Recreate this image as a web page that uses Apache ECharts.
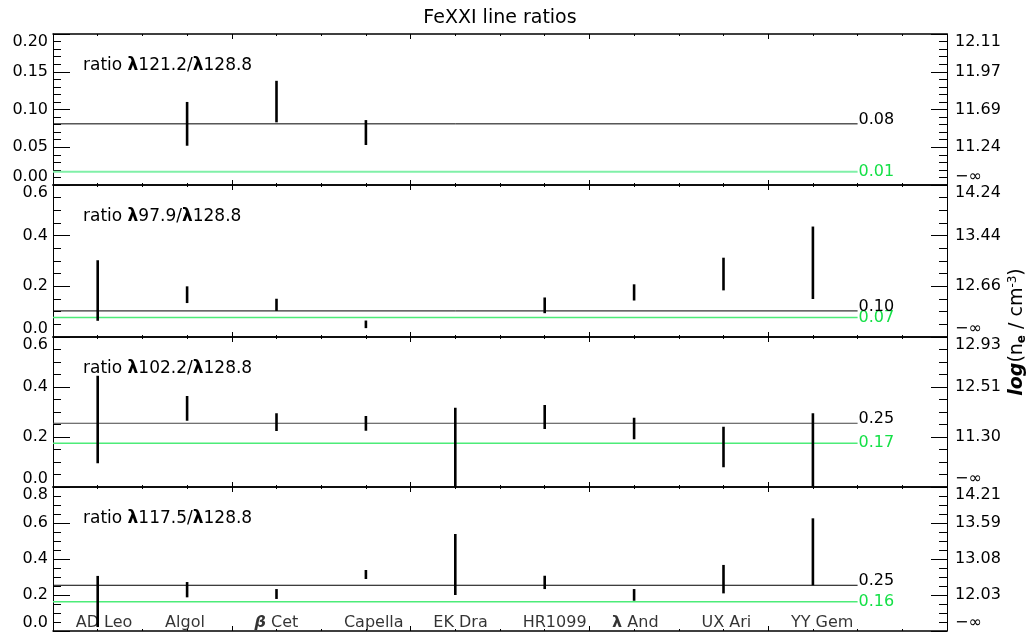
<!DOCTYPE html>
<html><head><meta charset="utf-8">
<script src="https://cdn.jsdelivr.net/npm/echarts@6/dist/echarts.min.js"></script>
<style>html,body{margin:0;padding:0;background:#fff}#c{width:1027px;height:634px}</style>
</head><body><div id="c"></div>
<script>
// ---------------- data ----------------
const stars = ['AD Leo','Algol','β Cet','Capella','EK Dra','HR1099','λ And','UX Ari','YY Gem'];
const chartTitle = 'FeXXI line ratios';
const panelLines = ['121.2','97.9','102.2','117.5'];
const refLine = '128.8';
const yMax = [0.2, 0.6, 0.6, 0.8];
const yInterval = [0.05, 0.2, 0.2, 0.2];
const yMinorInterval = [0.01, 0.05, 0.05, 0.05];
const rightLabels1 = ['−∞','11.24','11.69','11.97','12.11'];
const rightLabels2 = ['−∞','12.66','13.44','14.24'];
const rightLabels3 = ['−∞','11.30','12.51','12.93'];
const rightLabels4 = ['−∞','12.03','13.08','13.59','14.21'];
// error bar ranges (low / high) per star
const low1  = [null, 0.052, 0.083, 0.053, null, null, null, null, null];
const high1 = [null, 0.110, 0.138, 0.086, null, null, null, null, null];
const low2  = [0.064, 0.134, 0.103, 0.035, null, 0.094, 0.144, 0.184, 0.150];
const high2 = [0.303, 0.200, 0.151, 0.065, null, 0.156, 0.208, 0.313, 0.436];
const low3  = [0.095, 0.265, 0.224, 0.225, 0.000, 0.232, 0.191, 0.079, 0.000];
const high3 = [0.445, 0.364, 0.295, 0.284, 0.317, 0.328, 0.277, 0.241, 0.295];
const low4  = [0.022, 0.187, 0.178, 0.289, 0.200, 0.233, 0.168, 0.209, 0.254];
const high4 = [0.306, 0.272, 0.233, 0.339, 0.539, 0.307, 0.233, 0.367, 0.626];
// reference levels
const blackLevel = [0.081, 0.103, 0.255, 0.254];
const greenLevel = [0.0176, 0.077, 0.175, 0.163];
const xEnd = 9;

// ---------------- build ----------------
const lows = [low1, low2, low3, low4];
const highs = [high1, high2, high3, high4];
const rightLabels = [rightLabels1, rightLabels2, rightLabels3, rightLabels4];
const FONT = 'DejaVu Sans';
const gridTop = [34, 185, 337, 487];
const gridH = [151, 152, 150, 144];
const trunc2 = v => (Math.floor(v * 100 + 1e-9) / 100).toFixed(2);

const grid = [], xAxis = [], yAxis = [], series = [], title = [];
title.push({text: chartTitle, left: 500, top: 9, textAlign: 'center', padding: 0,
  textStyle: {fontFamily: FONT, fontSize: 19, fontWeight: 'normal', color: '#000'}});

function xAx(i, pos, interval, len, line) {
  return {gridIndex: i, type: 'value', min: 0, max: 10, interval, position: pos,
    axisLine: {show: line, onZero: false, lineStyle: {color: '#000', width: 1.5}},
    axisTick: {show: true, inside: true, length: len, lineStyle: {color: '#000'}},
    axisLabel: {show: false}, splitLine: {show: false}};
}
function yAx(i, pos, interval, len, line, label) {
  return {gridIndex: i, type: 'value', min: 0, max: yMax[i], interval, position: pos,
    axisLine: {show: line, onZero: false, lineStyle: {color: '#000', width: 1}},
    axisTick: {show: true, inside: true, length: len, lineStyle: {color: '#000'}},
    axisLabel: label || {show: false}, splitLine: {show: false}};
}

for (let i = 0; i < 4; i++) {
  grid.push({left: 53, right: 80, top: gridTop[i], height: gridH[i]});
  xAxis.push(xAx(i, 'bottom', 2, 5, true));
  xAxis.push(xAx(i, 'top', 2, 5, true));
  xAxis.push(xAx(i, 'bottom', 0.5, 2, false));
  xAxis.push(xAx(i, 'top', 0.5, 2, false));
  const rl = rightLabels[i];
  yAxis.push(yAx(i, 'left', yInterval[i], 17, true,
    {color: '#000', fontFamily: FONT, fontSize: 16, margin: 5,
     verticalAlignMaxLabel: 'top', verticalAlignMinLabel: 'bottom',
     formatter: v => v.toFixed(i === 0 ? 2 : 1)}));
  yAxis.push(yAx(i, 'right', yInterval[i], 16, true,
    {color: '#000', fontFamily: FONT, fontSize: 16, margin: 8,
     verticalAlignMaxLabel: 'top', verticalAlignMinLabel: 'bottom',
     formatter: v => rl[Math.round(v / yInterval[i])] || ''}));
  yAxis.push(yAx(i, 'left', yMinorInterval[i], 8, false));
  yAxis.push(yAx(i, 'right', yMinorInterval[i], 8, false));

  title.push({text: 'ratio {l|λ}' + panelLines[i] + '/{l|λ}' + refLine,
    left: 83, top: gridTop[i] + 23, padding: 0,
    textStyle: {fontFamily: FONT, fontSize: 17, fontWeight: 'normal', color: '#000',
      rich: {l: {fontFamily: FONT, fontSize: 17, fontWeight: 'bold', color: '#000'}}}});

  const xi = 4 * i, yi = 4 * i;
  // reference levels
  series.push({type: 'line', xAxisIndex: xi, yAxisIndex: yi, silent: true, symbol: 'none',
    data: [[0, greenLevel[i]], [xEnd, greenLevel[i]]],
    lineStyle: {color: i === 0 ? '#80f0a8' : '#4cec78', width: i === 0 ? 2 : 1.5},
    endLabel: {show: true, formatter: () => trunc2(greenLevel[i]), distance: 1,
      color: '#14e046', fontFamily: FONT, fontSize: 16, align: 'left', verticalAlign: 'middle'},
    z: 2});
  series.push({type: 'line', xAxisIndex: xi, yAxisIndex: yi, silent: true, symbol: 'none',
    data: [[0, blackLevel[i]], [xEnd, blackLevel[i]]],
    lineStyle: {color: i === 2 ? '#444' : '#000', width: 1},
    endLabel: {show: true, formatter: () => trunc2(blackLevel[i]), distance: 1, offset: [0, 4],
      color: '#000', fontFamily: FONT, fontSize: 16, align: 'left', verticalAlign: 'bottom'},
    z: 2});

  // error bars
  const bars = [];
  stars.forEach((s, k) => {
    if (lows[i][k] != null && highs[i][k] != null) bars.push([k + 0.5, lows[i][k], highs[i][k]]);
  });
  series.push({type: 'custom', xAxisIndex: xi, yAxisIndex: yi, silent: true, clip: false,
    data: bars, encode: {x: 0, y: [1, 2]}, z: 5,
    renderItem: (params, api) => {
      const a = api.coord([api.value(0), api.value(1)]);
      const b = api.coord([api.value(0), api.value(2)]);
      return {type: 'line', shape: {x1: a[0], y1: a[1], x2: b[0], y2: b[1]},
        style: {stroke: '#000', lineWidth: 2.6}};
    }});
}

// star names inside the bottom panel
const starRich = s => s.replace('β', '{bi|β}').replace('λ', '{b|λ}');
series.push({type: 'scatter', xAxisIndex: 12, yAxisIndex: 12, silent: true, symbolSize: 1,
  itemStyle: {color: 'rgba(0,0,0,0)'}, z: 6,
  data: stars.map((s, k) => ({value: [k + 0.5, 0], name: s})),
  label: {show: true, position: 'inside', align: 'left', verticalAlign: 'middle', offset: [-22, -8],
    formatter: p => starRich(p.name), color: '#000', fontFamily: FONT, fontSize: 16,
    rich: {bi: {fontFamily: FONT, fontSize: 16, fontWeight: 'bold', fontStyle: 'italic', color: '#000'},
           b: {fontFamily: FONT, fontSize: 16, fontWeight: 'bold', color: '#000'}}}});

const chart = echarts.init(document.getElementById('c'), null, {renderer: 'canvas'});
chart.setOption({
  animation: false, backgroundColor: '#fff',
  title, grid, xAxis, yAxis, series,
  graphic: [{type: 'text', x: 1017, y: 332, rotation: Math.PI / 2,
    style: {text: '{i|log}(n{s|e} / cm{p|-3})', align: 'center', verticalAlign: 'middle',
      fontFamily: FONT, fontSize: 19, fill: '#000',
      rich: {i: {fontFamily: FONT, fontSize: 19, fontStyle: 'italic', fontWeight: 'bold'},
             s: {fontFamily: FONT, fontSize: 12, fontWeight: 'bold', verticalAlign: 'bottom', padding: [9, 0, 0, 0]},
             p: {fontFamily: FONT, fontSize: 12, verticalAlign: 'top', padding: [0, 0, 9, 0]}}}}]
});
</script></body></html>
